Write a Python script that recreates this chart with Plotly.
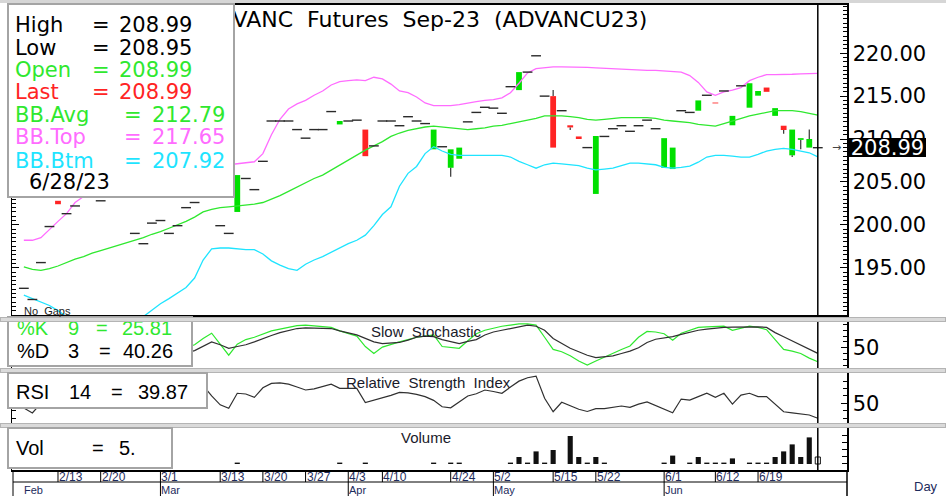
import plotly.graph_objects as go

# ---------------- data ----------------
dates = ['2/7','2/8','2/9','2/10','2/13','2/14','2/15','2/16','2/17',
         '2/20','2/21','2/22','2/23','2/24','2/27','2/28',
         '3/1','3/2','3/3','3/7','3/8','3/9','3/10',
         '3/13','3/14','3/15','3/16','3/17','3/20','3/21','3/22','3/23','3/24',
         '3/27','3/28','3/29','3/30','3/31',
         '4/3','4/4','4/5','4/7','4/10','4/11','4/12','4/17','4/18','4/19','4/20','4/21',
         '4/24','4/25','4/26','4/27','4/28',
         '5/2','5/3','5/8','5/9','5/10','5/11','5/12',
         '5/15','5/16','5/17','5/18','5/19','5/22','5/23','5/24','5/25','5/26',
         '5/29','5/30','5/31',
         '6/1','6/2','6/6','6/7','6/8','6/9','6/12','6/13','6/14','6/15','6/16',
         '6/19','6/20','6/21','6/22','6/23','6/26','6/27','6/28']

opens = [192.6,191.3,195.6,199.8,202.8,201.3,202.2,203.3,203.8,202.8,
         203.6,204.2,203.4,199.0,197.8,200.2,200.5,199.0,199.9,202.0,
         202.6,203.5,203.8,199.9,199.0,201.5,205.4,204.1,207.4,212.1,
         212.1,212.1,211.1,210.1,211.1,211.1,213.2,211.7,212.1,212.2,
         211.1,209.2,212.1,212.1,211.55,212.6,212.1,211.8,208.8,209.1,
         206.65,207.7,212.0,213.1,213.7,213.6,213.0,216.1,215.7,217.8,
         219.7,215.0,215.0,213.3,211.6,210.3,209.0,203.6,210.3,211.2,
         211.55,210.9,211.55,212.2,211.2,206.65,206.5,213.3,213.1,213.3,
         215.1,214.25,215.6,211.6,216.2,213.65,215.05,216.0,212.7,211.55,
         208.1,209.9,209.0,208.99]
closes = [192.6,191.3,195.6,199.8,202.4,201.3,202.2,203.3,203.8,202.8,
          203.6,204.2,203.4,199.0,197.8,200.2,200.5,199.0,199.9,202.0,
          202.6,203.5,203.8,199.9,199.0,205.8,205.4,204.1,207.4,212.1,
          212.1,212.1,211.1,210.1,211.1,211.1,213.2,212.1,212.1,212.2,
          208.0,209.2,212.1,212.1,211.55,212.6,212.1,211.8,211.1,209.1,
          208.8,209.0,212.0,213.1,213.7,213.6,213.0,216.1,217.8,217.8,
          219.7,215.0,209.0,213.3,211.35,210.0,209.0,210.35,210.3,211.2,
          211.55,210.9,211.55,212.2,211.2,210.1,209.0,213.3,213.1,214.5,
          215.1,214.15,215.6,212.7,216.2,216.5,215.6,215.5,213.6,211.05,
          211.1,210.1,210.0,208.99]
highs = [192.6,191.3,195.6,199.8,202.8,201.3,202.2,203.3,203.8,202.8,
         203.6,204.2,203.4,199.0,197.8,200.2,200.5,199.0,199.9,202.0,
         202.6,203.5,203.8,199.9,199.0,205.8,205.4,204.1,207.4,212.1,
         212.1,212.1,211.1,210.1,211.1,211.1,213.2,212.1,212.1,212.2,
         211.1,209.2,212.1,212.1,211.55,212.6,212.1,211.8,211.1,209.1,
         208.8,209.0,212.0,213.1,213.7,213.6,213.0,216.1,217.8,217.8,
         219.7,215.0,215.7,213.3,211.6,210.3,209.0,210.35,210.3,211.2,
         211.55,210.9,211.55,212.2,211.2,210.1,209.0,213.3,213.1,214.5,
         215.1,214.25,215.6,212.7,216.2,216.5,215.6,216.0,213.6,211.55,
         211.1,210.1,211.1,208.99]
lows = [192.6,191.3,195.6,199.8,202.4,201.3,202.2,203.3,203.8,202.8,
        203.6,204.2,203.4,199.0,197.8,200.2,200.5,199.0,199.9,202.0,
        202.6,203.5,203.8,199.9,199.0,201.5,205.4,204.1,207.4,212.1,
        212.1,212.1,211.1,210.1,211.1,211.1,213.2,211.7,212.1,212.2,
        208.0,209.2,212.1,212.1,211.55,212.6,212.1,211.8,208.8,209.1,
        205.6,207.7,212.0,213.1,213.7,213.6,213.0,216.1,215.7,217.8,
        219.7,215.0,209.0,213.3,211.05,210.0,209.0,203.6,210.3,211.2,
        211.55,210.9,211.55,212.2,211.2,206.65,206.5,213.3,213.1,213.3,
        215.1,214.15,215.6,211.6,216.2,213.65,215.05,215.5,212.7,210.6,
        207.9,208.8,209.0,208.95]
volumes = [0,0,0,0,0,0,0,0,0,0,
           0,0,0,0,0,0,0,0,0,0,
           0,0,0,0,0,1,0,0,0,0,
           0,0,0,0,0,0,0,1,0,0,
           1,0,0,0,0,0,0,0,1,0,
           1,1,0,0,0,0,0,1,5,1,
           9,1,10,0,20,5,1,5,1,0,
           0,0,0,0,0,1,6,0,1,5,
           1,1,1,4,0,1,1,1,5,9,
           14,5,19,5]
bb_top = [198.2,198.2,198.5,199.5,200.4,201.3,202.6,203.3,203.8,204.3,
          204.8,205.2,205.5,205.7,205.8,205.9,206.0,206.1,206.2,206.4,
          206.6,206.8,206.9,207.0,207.0,207.1,207.2,207.35,208.3,210.5,
          212.3,213.5,214.1,214.5,215.1,215.6,216.3,216.7,216.8,216.9,
          216.8,217.2,217.0,216.4,215.6,215.4,214.9,214.2,213.9,213.9,
          213.9,214.0,214.2,214.35,214.5,214.6,214.8,215.4,216.5,217.7,
          218.2,218.3,218.4,218.4,218.4,218.35,218.35,218.3,218.25,218.2,
          218.1,218.1,218.05,218.0,218.0,217.95,217.9,217.8,217.4,216.6,
          215.5,215.1,215.5,215.7,216.0,216.8,217.2,217.5,217.5,217.5,
          217.55,217.6,217.65,217.65]
bb_avg = [195.1,194.8,194.7,194.9,195.2,195.6,196.0,196.3,196.7,197.0,
          197.3,197.6,197.9,198.2,198.5,198.9,199.2,199.6,200.0,200.4,
          200.9,201.5,201.8,202.0,202.1,202.2,202.3,202.4,202.6,203.0,
          203.4,203.9,204.4,204.9,205.4,205.8,206.4,207.0,207.6,208.1,
          208.7,209.2,209.7,210.3,210.7,211.0,211.2,211.4,211.5,211.4,
          211.3,211.2,211.1,211.2,211.3,211.5,211.6,211.8,212.0,212.2,
          212.4,212.7,212.7,212.7,212.6,212.5,212.3,212.2,212.3,212.4,
          212.5,212.5,212.5,212.5,212.4,212.2,212.1,212.0,211.9,211.7,
          211.6,211.5,211.8,212.1,212.4,212.7,212.9,213.1,213.3,213.3,
          213.3,213.2,213.0,212.79]
bb_btm = [191.8,191.4,191.0,190.6,190.0,189.3,188.8,188.4,188.0,187.8,
          187.7,187.7,187.8,188.2,189.3,190.1,190.8,191.4,192.0,192.7,
          193.8,195.9,197.2,197.3,197.3,197.2,197.1,197.1,196.6,195.8,
          195.3,194.9,194.7,195.4,195.9,196.3,196.8,197.3,197.8,198.2,
          198.8,199.9,201.2,202.1,204.5,206.0,206.8,208.3,209.1,208.6,
          208.2,208.1,208.1,208.1,208.1,208.1,208.1,207.9,207.4,207.0,
          206.6,207.0,207.2,207.1,207.0,206.9,206.6,206.4,206.5,206.6,
          206.9,207.2,207.2,207.1,207.0,206.7,206.6,206.7,206.85,207.3,
          207.9,208.1,208.1,208.0,207.9,207.9,208.2,208.6,208.8,208.9,
          208.8,208.6,208.4,207.92]
stoch_k = [None]*18 + [55,50,
           55,66,75,55,37,56,64,68,74,79,
           82,85,88,89,88,87,85,79,74,70,
           52,40,51,56,60,64,68,70,72,52,
           50,49,62,74,80,84,87,89,91,91,
           89,68,47,43,36,27,20,27,34,40,
           47,53,68,78,77,74,63,75,80,85,
           86,87,87,80,84,87,85,81,64,47,
           44,40,32,25.81]
stoch_d = [None]*18 + [40,41,
           45,53,60,55,49,52,55,60,66,71,
           76,80,83,84,84,83.5,83,79,75,72,
           66,60,57,58,59,63,68,70,69,64,
           60,57,61,64,72,77,80,83,85,89,
           87,80,66,57,49,43,37,33,34,36,
           40,44,50,59,64.5,67,69,73,77,80,
           82,84,85,85.5,86,86,86,85,76,69,
           62,55,47.5,40.26]
rsi = [46.8,43.5,50,55,58,57,58,60,61,62,
       62,63,60,55,52,55,56,54,55,58,
       59,62,55,49,46.6,56.8,56.3,54,60.5,63.5,
       63.8,63,61,59,59.8,61.5,63,60.1,60.1,60.1,
       50.5,52,53.4,55.4,57.4,57,56,54.5,52,47.7,
       47,51,55,56.5,59,58,56.8,61,65,67.3,
       68.4,53.4,44.3,50.7,48.2,46,44.5,46.4,46.4,47.5,
       48.2,47.3,49.5,51,48.5,46,43.6,52.9,52.2,54.5,
       56.8,54.1,56.8,49.5,55.6,56.8,54.5,54.5,49.5,44.3,
       43.5,42.6,42.1,39.87]
price_ticks = [195, 200, 205, 210, 215, 220]
day_labels = ['2/13','2/20','3/1','3/13','3/20','3/27','4/3','4/10','4/24',
              '5/2','5/15','5/22','6/1','6/12','6/19']
month_names = ['Mar','Apr','May','Jun']
month_starts = ['3/1','4/3','5/2','6/1']
first_month = 'Feb'
title_text = 'ADVANC\u00a0 Futures\u00a0 Sep-23\u00a0 (ADVANCU23)'

# ---------------- layout geometry ----------------
W, H = 946, 496
ML, MR, MT, MB = 12, 99, 5, 26
PW, PH = W - ML - MR, H - MT - MB
def px(v):
    return (v - ML) / PW
def py(v):
    return (H - MB - v) / PH

GREEN = '#00e000'
LGREEN = '#2fe82f'
RED = '#ff2424'
MAG = '#ff6cff'
CYAN = '#1ee4ff'
DARK = '#2a2a2a'
DEJ = 'DejaVu Sans'
ARI = 'Liberation Sans, Arial, sans-serif'

n = len(dates)
x = list(range(n))

fig = go.Figure()
# Bollinger bands
fig.add_trace(go.Scatter(x=x, y=bb_top, mode='lines', line=dict(color=MAG, width=1.3), hoverinfo='skip'))
fig.add_trace(go.Scatter(x=x, y=bb_avg, mode='lines', line=dict(color=LGREEN, width=1.3), hoverinfo='skip'))
fig.add_trace(go.Scatter(x=x, y=bb_btm, mode='lines', line=dict(color=CYAN, width=1.3), hoverinfo='skip'))

# candle bodies
up = [i for i in x if closes[i] > opens[i]]
dn = [i for i in x if closes[i] < opens[i]]
fig.add_trace(go.Bar(x=up, y=[closes[i] - opens[i] for i in up], base=[opens[i] for i in up],
                     width=0.68, marker=dict(color=GREEN, line=dict(width=0)), hoverinfo='skip'))
fig.add_trace(go.Bar(x=dn, y=[opens[i] - closes[i] for i in dn], base=[closes[i] for i in dn],
                     width=0.68, marker=dict(color=RED, line=dict(width=0)), hoverinfo='skip'))
# wicks outside the bodies
wx, wy = [], []
for i in x:
    top, bot = max(opens[i], closes[i]), min(opens[i], closes[i])
    if highs[i] > top:
        wx += [i, i, None]; wy += [highs[i], top, None]
    if lows[i] < bot:
        wx += [i, i, None]; wy += [bot, lows[i], None]
fig.add_trace(go.Scatter(x=wx, y=wy, mode='lines', line=dict(color='#333333', width=1.2), hoverinfo='skip'))
# doji (open == close)
dj = [i for i in x if closes[i] == opens[i]]
fig.add_trace(go.Scatter(x=dj, y=[closes[i] for i in dj], mode='markers',
                         marker=dict(symbol='line-ew', size=7, line=dict(width=1.4, color=DARK)),
                         hoverinfo='skip'))

# stochastic
fig.add_trace(go.Scatter(x=x, y=stoch_k, mode='lines', line=dict(color=LGREEN, width=1.2),
                         xaxis='x2', yaxis='y2', hoverinfo='skip'))
fig.add_trace(go.Scatter(x=x, y=stoch_d, mode='lines', line=dict(color='#303030', width=1.2),
                         xaxis='x2', yaxis='y2', hoverinfo='skip'))
# RSI
fig.add_trace(go.Scatter(x=x, y=rsi, mode='lines', line=dict(color='#303030', width=1.2),
                         xaxis='x3', yaxis='y3', hoverinfo='skip'))
# volume
fig.add_trace(go.Bar(x=x, y=volumes, width=0.6, xaxis='x4', yaxis='y4', hoverinfo='skip',
                     marker=dict(color=['#111111'] * (n - 1) + ['white'],
                                 line=dict(color='#111111', width=[0] * (n - 1) + [1]))))

xr = [-1.387, 96.42]
xcom = dict(range=xr, showticklabels=False, ticks='', showgrid=False, zeroline=False, fixedrange=True)
tickfont = dict(family=DEJ, size=21, color='black')
ycom = dict(side='right', showline=True, linecolor='black', linewidth=1.5, mirror='ticks',
            ticks='inside', tickcolor='black', tickwidth=1, showgrid=False, zeroline=False,
            fixedrange=True, tickfont=tickfont)

fig.update_layout(
    width=W, height=H, margin=dict(l=ML, r=MR, t=MT, b=MB, autoexpand=False),
    paper_bgcolor='white', plot_bgcolor='white', showlegend=False, barmode='overlay',
    xaxis=dict(**xcom, domain=[0, 1], anchor='y', showline=True, mirror=True, linecolor='black', linewidth=2),
    xaxis2=dict(**xcom, domain=[0, 1], anchor='y2', matches='x', showline=False),
    xaxis3=dict(**xcom, domain=[0, 1], anchor='y3', matches='x', showline=False),
    xaxis4=dict(**xcom, domain=[0, 1], anchor='y4', matches='x', showline=True, linecolor='black', linewidth=1.5),
    yaxis=dict(**ycom, domain=[py(315), 1], range=[189.49, 225.62], anchor='x',
               ticklen=7, tickmode='array', tickvals=price_ticks,
               ticktext=[f'{v:.2f}' for v in price_ticks],
               minor=dict(tick0=0, dtick=0.5, ticks='inside', ticklen=4, tickcolor='black', showgrid=False)),
    yaxis2=dict(**ycom, domain=[py(368), py(321)], range=[15.0, 96.0], anchor='x2',
                ticklen=6, tickmode='array', tickvals=[50], ticktext=['50'],
                minor=dict(tick0=0, dtick=10, ticks='inside', ticklen=4, tickcolor='black', showgrid=False)),
    yaxis3=dict(**ycom, domain=[py(423), py(373)], range=[36.7, 70.5], anchor='x3',
                ticklen=6, tickmode='array', tickvals=[50], ticktext=['50'],
                minor=dict(tick0=0, dtick=5, ticks='inside', ticklen=4, tickcolor='black', showgrid=False)),
    yaxis4=dict(**ycom, domain=[0, py(428)], range=[-4.29, 25.71], anchor='x4',
                ticklen=5, tick0=0, dtick=5, showticklabels=False),
)

# ---------------- shapes (date axis frame, last bar line) ----------------
shapes = [dict(type='line', xref='x', yref='paper', x0=x[-1], x1=x[-1], y0=0, y1=1,
               line=dict(color='black', width=1.5), layer='above'),
          dict(type='line', xref='paper', yref='paper', x0=px(13), x1=1, y0=py(482), y1=py(482),
               line=dict(color='black', width=1)),
          dict(type='line', xref='paper', yref='paper', x0=px(13), x1=px(13), y0=0, y1=py(496),
               line=dict(color='black', width=1)),
          dict(type='line', xref='paper', yref='paper', x0=1, x1=1, y0=0, y1=py(496),
               line=dict(color='black', width=1.5))]
for lbl in day_labels:
    j = dates.index(lbl)
    shapes.append(dict(type='line', xref='x', yref='paper', x0=j, x1=j, y0=0,
                       y1=py(496) if lbl in month_starts else py(482),
                       line=dict(color='black', width=1)))
fig.update_layout(shapes=shapes)

# ---------------- annotations ----------------
ann = []
def box(x0, y0, x1, y1, bg='white', bc='#a4a4a4', bw=2):
    ann.append(dict(xref='paper', yref='paper', x=px(x0), y=py(y0), xanchor='left', yanchor='top',
                    text=' ', showarrow=False, width=max(1, x1 - x0 - 2 * bw), height=max(1, y1 - y0 - 2 * bw),
                    bgcolor=bg, bordercolor=bc, borderwidth=bw, borderpad=0, font=dict(size=1)))
def txt(x0, y0, s, color='black', size=21, family=DEJ, anchor='left'):
    ann.append(dict(xref='paper', yref='paper', x=px(x0), y=py(y0), xanchor=anchor, yanchor='middle',
                    text=s, showarrow=False, borderpad=0, borderwidth=0,
                    font=dict(family=family, size=size, color=color)))

box(0, 0, W, 3, bg='#d6d6d6', bw=0)
txt(201, 19, title_text, size=22)

# stochastic legend (top clipped by separator)
box(7, 316, 193, 367)
txt(17, 328, '%K', LGREEN, 20, ARI); txt(68, 328, '9', LGREEN, 20, ARI)
txt(96, 328, '=', LGREEN, 20, ARI); txt(122, 328, f'{stoch_k[-1]:.2f}', LGREEN, 20, ARI)
txt(17, 351, '%D', 'black', 20, ARI); txt(68, 351, '3', 'black', 20, ARI)
txt(99, 351, '=', 'black', 20, ARI); txt(123, 351, f'{stoch_d[-1]:.2f}', 'black', 20, ARI)

# separators between panels
box(0, 316.5, W, 321, bg='#dadada', bc='#b4b4b4', bw=1)
box(0, 368, W, 373, bg='#dadada', bc='#b4b4b4', bw=1)
box(0, 423, W, 428, bg='#dadada', bc='#b4b4b4', bw=1)

# Bollinger legend box
box(7, 3, 235, 198)
rows = [('High', f'{highs[-1]:.2f}', 'black', 25, 92, 119),
        ('Low', f'{lows[-1]:.2f}', 'black', 47.5, 92, 119),
        ('Open', f'{opens[-1]:.2f}', LGREEN, 70, 92, 119),
        ('Last', f'{closes[-1]:.2f}', RED, 91.5, 92, 119),
        ('BB.Avg', f'{bb_avg[-1]:.2f}', LGREEN, 115, 124, 152),
        ('BB.Top', f'{bb_top[-1]:.2f}', MAG, 137.5, 124, 152),
        ('BB.Btm', f'{bb_btm[-1]:.2f}', CYAN, 161, 124, 152)]
for lab, val, col, yy, xe, xv in rows:
    txt(15, yy, lab, col); txt(xe, yy, '=', col); txt(xv, yy, val, col)
txt(29, 182, dates[-1] + '/23')

# RSI and volume legends
box(7, 372, 208, 409)
txt(16, 392, 'RSI', 'black', 20, ARI); txt(69, 392, '14', 'black', 20, ARI)
txt(111, 392, '=', 'black', 20, ARI); txt(138, 392, f'{rsi[-1]:.2f}', 'black', 20, ARI)
box(7, 427, 173, 469)
txt(16, 448, 'Vol', 'black', 20, ARI); txt(92, 448, '=', 'black', 20, ARI)
txt(119, 448, f'{volumes[-1]}.', 'black', 20, ARI)

# panel titles
txt(371, 331, 'Slow\u00a0 Stochastic', '#1a1a2a', 15, ARI)
txt(346, 382, 'Relative\u00a0 Strength\u00a0 Index', '#1a1a2a', 15, ARI)
txt(401, 437, 'Volume', '#1a1a2a', 15, ARI)
txt(24, 311, 'No\u00a0 Gaps', '#222222', 11, ARI)

# date labels
for lbl in day_labels:
    ann.append(dict(xref='x', yref='paper', x=dates.index(lbl), y=py(476.5), xanchor='left', yanchor='middle',
                    xshift=1, text=lbl, showarrow=False, borderpad=0, borderwidth=0,
                    font=dict(family=ARI, size=12, color='#1d2b5c')))
for name, st in zip(month_names, month_starts):
    ann.append(dict(xref='x', yref='paper', x=dates.index(st), y=py(490), xanchor='left', yanchor='middle',
                    xshift=1, text=name, showarrow=False, borderpad=0, borderwidth=0,
                    font=dict(family=ARI, size=11, color='#1d2b5c')))
txt(24, 490, first_month, '#1d2b5c', 11, ARI)
txt(914, 486, 'Day', '#1d2b5c', 13, ARI)

# last price marker
ann.append(dict(xref='paper', yref='y', x=px(836), y=closes[-1], xanchor='center', yanchor='middle',
                text='\u2192', showarrow=False, font=dict(family=DEJ, size=11, color='#444444')))
ann.append(dict(xref='paper', yref='y', x=px(849), y=closes[-1], xanchor='left', yanchor='middle',
                text=f'{closes[-1]:.2f}', showarrow=False, bgcolor='black', borderpad=0, borderwidth=0,
                width=77, height=19, font=dict(family=DEJ, size=21, color='white')))
fig.update_layout(annotations=ann)

fig.write_html('out.html', config={'displayModeBar': False, 'staticPlot': True},
               post_script="document.body.style.margin='0';document.body.style.overflow='hidden';")
